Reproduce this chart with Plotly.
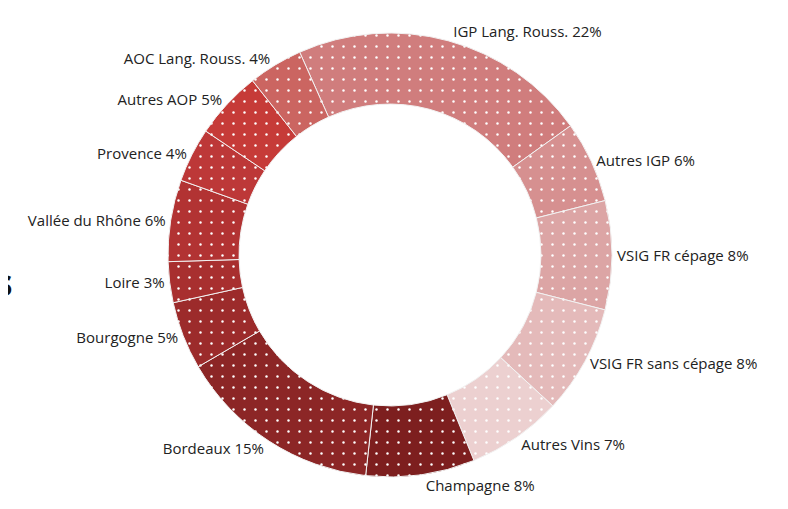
import plotly.graph_objects as go

labels = ["IGP Lang. Rouss.", "Autres IGP", "VSIG FR cépage", "VSIG FR sans cépage",
          "Autres Vins", "Champagne", "Bordeaux", "Bourgogne", "Loire",
          "Vallée du Rhône", "Provence", "Autres AOP", "AOC Lang. Rouss."]
shares = [22, 6, 8, 8, 7, 8, 15, 5, 3, 6, 4, 5, 4]
colors = ["#d07d7d", "#d69090", "#dca5a5", "#e4baba", "#ecd0d0", "#7d1f1f",
          "#8c2626", "#9c2b2b", "#a82f2f", "#b23333", "#bd3838", "#c63b38", "#cb6561"]

fig = go.Figure()

fig.add_trace(go.Pie(
    labels=labels,
    values=shares,
    hole=0.68,
    sort=False,
    direction="clockwise",
    rotation=-24,
    domain=dict(x=[0.2030, 0.7665], y=[0.0786, 0.9509]),
    textposition="outside",
    texttemplate="%{label} %{value}%",
    textfont=dict(family="Open Sans", size=15, color="#222222"),
    marker=dict(
        colors=colors,
        line=dict(color="#f2f2f2", width=1),
        pattern=dict(shape=".", fillmode="replace", bgcolor=colors, fgcolor="white",
                     fgopacity=1, size=11, solidity=0.04),
    ),
    showlegend=False,
))

# title is cut off by the left edge, only the tail of its last letter shows
fig.update_layout(
    width=788,
    height=509,
    margin=dict(l=0, r=0, t=0, b=0),
    paper_bgcolor="white",
    plot_bgcolor="white",
    title=dict(text="<b>s</b>", x=0.006, xref="container", xanchor="right",
               y=0.46, yref="container", yanchor="middle",
               font=dict(family="Open Sans", size=38, color="#111111")),
)

fig.write_html("out.html")
